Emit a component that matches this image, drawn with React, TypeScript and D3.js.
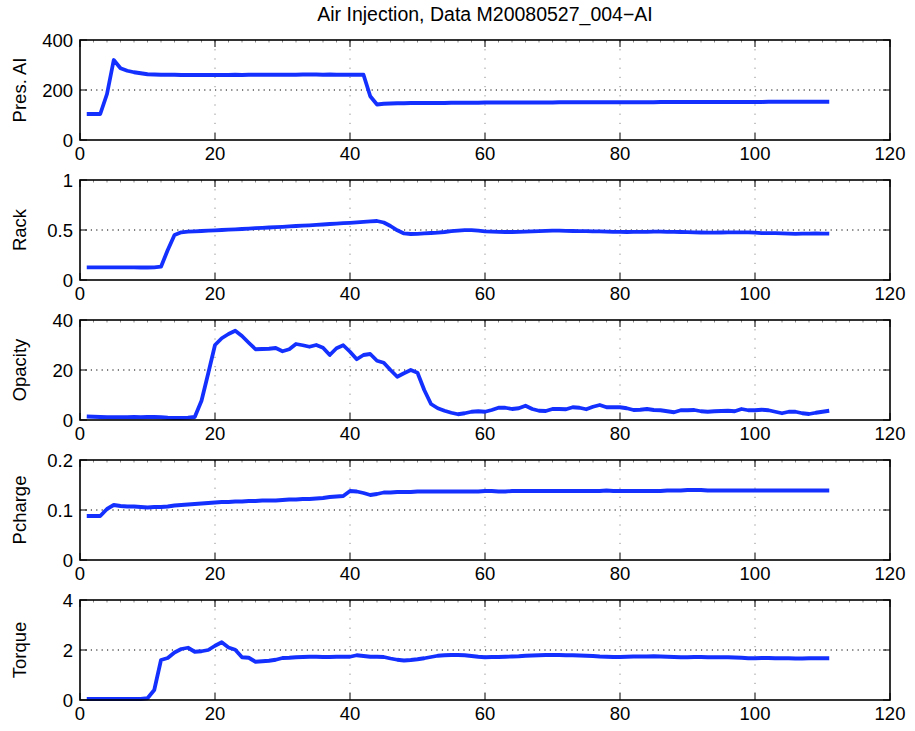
import React from "react";
import * as d3 from "d3";

// Sample index 1..111
const sampleIndex: number[] = Array.from({ length: 111 }, (_, i) => i + 1);

const presAI: number[] = [
  104, 104, 104, 184, 320, 287, 277, 271, 267, 263,
  262, 261, 261, 261, 260, 260, 260, 260, 260, 260,
  260, 260, 261, 260, 261, 261, 261, 261, 261, 261,
  261, 261, 262, 262, 262, 261, 262, 261, 261, 261,
  261, 261, 175, 142, 145, 146, 147, 147, 148, 148,
  148, 148, 148, 148, 149, 149, 149, 149, 149, 150,
  150, 150, 150, 150, 150, 150, 150, 150, 150, 150,
  151, 151, 151, 151, 151, 151, 151, 151, 151, 151,
  151, 151, 151, 151, 151, 152, 152, 152, 152, 152,
  152, 152, 152, 152, 152, 152, 152, 152, 152, 152,
  152, 153, 153, 153, 153, 153, 153, 153, 153, 153, 153,
];

const rack: number[] = [
  0.127, 0.127, 0.127, 0.127, 0.126, 0.126, 0.126, 0.126, 0.125, 0.125,
  0.126, 0.133, 0.3, 0.45, 0.477, 0.483, 0.487, 0.49, 0.494, 0.497,
  0.5, 0.503, 0.507, 0.51, 0.514, 0.518, 0.521, 0.525, 0.529, 0.532,
  0.536, 0.54, 0.543, 0.547, 0.551, 0.555, 0.56, 0.564, 0.568, 0.572,
  0.577, 0.582, 0.586, 0.59, 0.575, 0.54, 0.497, 0.466, 0.46, 0.462,
  0.466, 0.47, 0.474, 0.48, 0.488, 0.494, 0.498, 0.499, 0.494, 0.486,
  0.483, 0.481, 0.48, 0.48, 0.482, 0.484, 0.486, 0.489, 0.492, 0.494,
  0.493, 0.491, 0.49, 0.489, 0.488, 0.487, 0.486, 0.484, 0.482, 0.481,
  0.48, 0.481, 0.482, 0.482, 0.483, 0.483, 0.482, 0.481, 0.48, 0.479,
  0.477, 0.475, 0.474, 0.474, 0.475, 0.476, 0.477, 0.477, 0.476, 0.473,
  0.469, 0.468, 0.468, 0.467, 0.464, 0.462, 0.463, 0.464, 0.465, 0.464, 0.463,
];

const opacity: number[] = [
  1.4, 1.3, 1.2, 1.1, 1.1, 1.1, 1.1, 1.2, 1.1, 1.2,
  1.2, 1.1, 0.9, 0.8, 0.8, 0.9, 1.2, 7.7, 18.7, 30,
  32.7, 34.4, 35.7, 33.6, 30.9, 28.3, 28.4, 28.5, 28.8, 27.5,
  28.3, 30.4, 29.9, 29.3, 30, 28.9, 26, 28.7, 29.9, 27.3,
  24.3, 26, 26.4, 23.7, 22.9, 20, 17.3, 18.7, 20, 18.9,
  12, 6.4, 4.7, 3.7, 2.9, 2.3, 2.7, 3.3, 3.5, 3.3,
  4, 4.9, 4.9, 4.4, 4.7, 5.7, 4.4, 3.7, 3.6, 4.4,
  4.4, 4.3, 5.1, 4.9, 4.3, 5.3, 6, 5.1, 5.1, 5.1,
  4.7, 4, 4.1, 4.4, 4, 3.9, 3.5, 3.1, 3.9, 3.9,
  4, 3.5, 3.3, 3.5, 3.6, 3.7, 3.5, 4.4, 3.9, 3.9,
  4.1, 3.9, 3.3, 2.7, 3.3, 3.3, 2.7, 2.4, 2.9, 3.3, 3.7,
];

const pcharge: number[] = [
  0.088, 0.088, 0.088, 0.102, 0.11, 0.108, 0.107, 0.107, 0.106, 0.105,
  0.106, 0.106, 0.107, 0.109, 0.11, 0.111, 0.112, 0.113, 0.114, 0.115,
  0.116, 0.116, 0.117, 0.117, 0.118, 0.118, 0.119, 0.119, 0.119, 0.12,
  0.121, 0.121, 0.122, 0.122, 0.123, 0.124, 0.126, 0.127, 0.128, 0.138,
  0.137, 0.134, 0.13, 0.132, 0.135, 0.135, 0.136, 0.136, 0.136, 0.137,
  0.137, 0.137, 0.137, 0.137, 0.137, 0.137, 0.137, 0.137, 0.137, 0.138,
  0.138, 0.137, 0.137, 0.138, 0.138, 0.138, 0.138, 0.138, 0.138, 0.138,
  0.138, 0.138, 0.138, 0.138, 0.138, 0.138, 0.138, 0.139, 0.138, 0.138,
  0.138, 0.138, 0.138, 0.138, 0.138, 0.138, 0.139, 0.139, 0.139, 0.14,
  0.14, 0.14, 0.139, 0.139, 0.139, 0.139, 0.139, 0.139, 0.139, 0.139,
  0.139, 0.139, 0.139, 0.139, 0.139, 0.139, 0.139, 0.139, 0.139, 0.139, 0.139,
];

const torque: number[] = [
  0.04, 0.04, 0.04, 0.04, 0.04, 0.04, 0.04, 0.04, 0.04, 0.07,
  0.4, 1.6, 1.68, 1.9, 2.04, 2.09, 1.93, 1.95, 2.0, 2.17,
  2.31, 2.1, 2.01, 1.71, 1.69, 1.53, 1.55, 1.57, 1.61, 1.68,
  1.69, 1.71, 1.72, 1.73, 1.73, 1.72, 1.72, 1.73, 1.73, 1.73,
  1.79, 1.76, 1.73, 1.73, 1.72, 1.66, 1.61, 1.58, 1.6, 1.63,
  1.67, 1.72, 1.77, 1.79, 1.8, 1.8, 1.79, 1.76, 1.73, 1.71,
  1.72, 1.72, 1.73, 1.74, 1.75, 1.77, 1.78, 1.79, 1.8, 1.8,
  1.8, 1.79, 1.79, 1.78, 1.77, 1.76, 1.74, 1.73, 1.72, 1.72,
  1.73, 1.74, 1.74, 1.74, 1.75, 1.74, 1.73, 1.72, 1.71, 1.71,
  1.72, 1.72, 1.71, 1.71, 1.71, 1.71, 1.7, 1.69, 1.67, 1.67,
  1.68, 1.68, 1.67, 1.67, 1.67, 1.66, 1.66, 1.67, 1.67, 1.67, 1.67,
];

const xTicks: number[] = [0, 20, 40, 60, 80, 100, 120];

const panelLabels: string[] = ["Pres. AI", "Rack", "Opacity", "Pcharge", "Torque"];
const panelSeries: number[][] = [presAI, rack, opacity, pcharge, torque];
const panelYTicks: number[][] = [
  [0, 200, 400],
  [0, 0.5, 1],
  [0, 20, 40],
  [0, 0.1, 0.2],
  [0, 2, 4],
];

const titleText = "Air Injection, Data M20080527_004\u2212AI";

const W = 915;
const H = 731;
const LEFT = 80;
const RIGHT = 890;
const PANEL_TOP0 = 40;
const PANEL_STEP = 140;
const PANEL_H = 100;
const FONT = "'Liberation Sans', Arial, Helvetica, sans-serif";
const LINE_COLOR = "#1430ff";

const x = d3.scaleLinear().domain([0, 120]).range([LEFT, RIGHT]);
const minorX = d3.range(0, 121, 2);

function Panel({ idx }: { idx: number }) {
  const top = PANEL_TOP0 + idx * PANEL_STEP;
  const bottom = top + PANEL_H;
  const ticks = panelYTicks[idx];
  const y = d3
    .scaleLinear()
    .domain([ticks[0], ticks[ticks.length - 1]])
    .range([bottom, top]);
  const line = d3
    .line<number>()
    .x((_, i) => x(sampleIndex[i]))
    .y((d) => y(d));
  const data = panelSeries[idx];
  const midY = (top + bottom) / 2;
  return (
    <g>
      {/* vertical grid */}
      {xTicks.slice(1, -1).map((t) => (
        <line
          key={"vg" + t}
          x1={x(t)}
          x2={x(t)}
          y1={top}
          y2={bottom}
          stroke="#8a8a8a"
          strokeWidth={1}
          strokeDasharray="1.2,8"
        />
      ))}
      {/* horizontal grid */}
      {ticks.slice(1, -1).map((t) => (
        <line
          key={"hg" + t}
          x1={LEFT}
          x2={RIGHT}
          y1={y(t)}
          y2={y(t)}
          stroke="#000"
          strokeWidth={1}
          strokeDasharray="1.2,4.2"
        />
      ))}
      {/* minor ticks along top edge */}
      {minorX.map((t) => (
        <line
          key={"mt" + t}
          x1={x(t)}
          x2={x(t)}
          y1={top}
          y2={top + 2.5}
          stroke="#555"
          strokeWidth={0.7}
        />
      ))}
      {/* major x ticks, bottom and top */}
      {xTicks.map((t) => (
        <g key={"xt" + t}>
          <line x1={x(t)} x2={x(t)} y1={bottom} y2={bottom - 7} stroke="#000" strokeWidth={1} />
          <line x1={x(t)} x2={x(t)} y1={top} y2={top + 7} stroke="#000" strokeWidth={1} />
          <text
            x={x(t)}
            y={bottom + 20}
            textAnchor="middle"
            fontFamily={FONT}
            fontSize={18.5}
            fill="#000"
          >
            {t}
          </text>
        </g>
      ))}
      {/* y ticks, left and right */}
      {ticks.map((t) => (
        <g key={"yt" + t}>
          <line x1={LEFT} x2={LEFT + 7} y1={y(t)} y2={y(t)} stroke="#000" strokeWidth={1} />
          <line x1={RIGHT} x2={RIGHT - 7} y1={y(t)} y2={y(t)} stroke="#000" strokeWidth={1} />
          <text
            x={LEFT - 7}
            y={y(t)}
            dy="0.36em"
            textAnchor="end"
            fontFamily={FONT}
            fontSize={18.5}
            fill="#000"
          >
            {String(t)}
          </text>
        </g>
      ))}
      {/* data line */}
      <path
        d={line(data) || ""}
        fill="none"
        stroke={LINE_COLOR}
        strokeWidth={3.8}
        strokeLinejoin="round"
        strokeLinecap="butt"
      />
      {/* axes box */}
      <rect
        x={LEFT}
        y={top}
        width={RIGHT - LEFT}
        height={PANEL_H}
        fill="none"
        stroke="#000"
        strokeWidth={1.6}
      />
      {/* y label */}
      <text
        transform={`translate(${LEFT - 54},${midY}) rotate(-90)`}
        textAnchor="middle"
        fontFamily={FONT}
        fontSize={18.5}
        fill="#000"
      >
        {panelLabels[idx]}
      </text>
    </g>
  );
}

export default function App() {
  return (
    <svg
      width={W}
      height={H}
      viewBox={`0 0 ${W} ${H}`}
      style={{ position: "absolute", left: 0, top: 0, background: "#fff" }}
    >
      <rect x={0} y={0} width={W} height={H} fill="#fff" />
      <text
        x={(LEFT + RIGHT) / 2}
        y={21}
        textAnchor="middle"
        fontFamily={FONT}
        fontSize={19.5}
        fill="#000"
      >
        {titleText}
      </text>
      {panelLabels.map((_, i) => (
        <Panel key={i} idx={i} />
      ))}
    </svg>
  );
}
